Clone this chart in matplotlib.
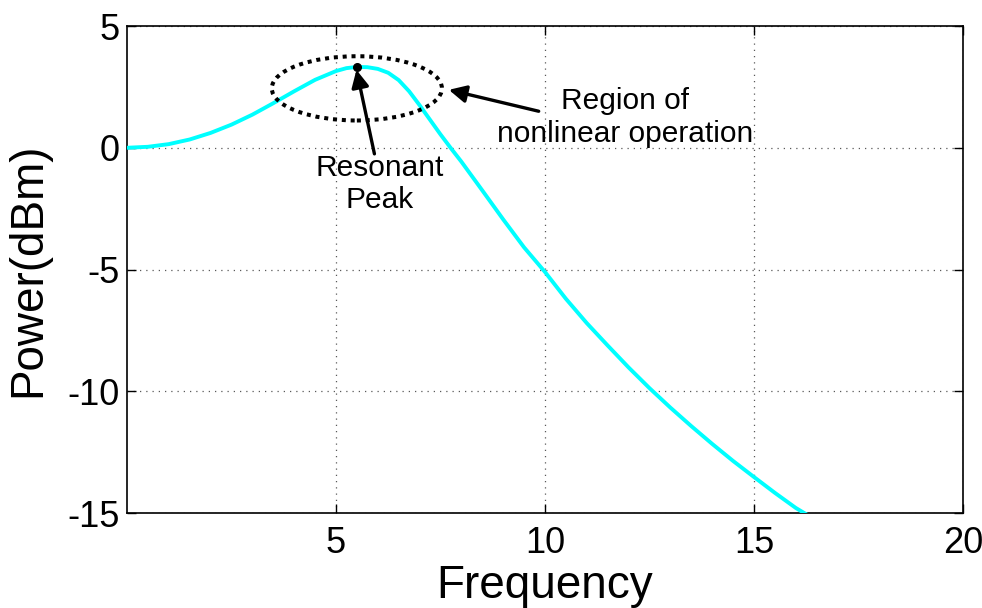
import matplotlib
matplotlib.use('Agg')
import matplotlib.pyplot as plt
from matplotlib.patches import Ellipse

plt.rcParams['font.family'] = ['Liberation Sans', 'DejaVu Sans']
plt.rcParams['axes.unicode_minus'] = False  # 하이픈 마이너스 사용

# 그래프에서 읽은 값 (주파수, 전력 dBm)
freq = [0, 0.5, 1, 1.5, 2, 2.5, 3, 3.5, 4, 4.5, 5, 5.25, 5.5, 5.75, 6, 6.25,
        6.5, 6.75, 7, 7.25, 7.5, 7.75, 8, 8.5, 9, 9.5, 10, 10.5, 11, 11.5,
        12, 12.5, 13, 13.5, 14, 14.5, 15, 15.5, 16, 16.3]
power = [0, 0.04, 0.15, 0.34, 0.61, 0.95, 1.36, 1.83, 2.32, 2.79, 3.15, 3.27,
         3.32, 3.31, 3.24, 3.08, 2.78, 2.32, 1.75, 1.15, 0.55, -0.02, -0.57,
         -1.75, -2.94, -4.09, -5.1, -6.2, -7.2, -8.12, -9.02, -9.87, -10.67,
         -11.43, -12.16, -12.86, -13.52, -14.17, -14.79, -15.1]

peak_f, peak_p = 5.5, 3.32
xticks = [5, 10, 15, 20]
yticks = [-15, -10, -5, 0, 5]

fig = plt.figure(figsize=(9.82, 6.08), dpi=100)
ax = fig.add_axes([0.1293, 0.1562, 0.8513, 0.801])

ax.plot(freq, power, color='cyan', lw=2.8, solid_joinstyle='round', zorder=3)
ax.plot(peak_f, peak_p, 'o', color='k', ms=5.5, zorder=4)

# 비선형 영역 표시 (점선 타원)
ell = Ellipse((5.5, 2.44), 4.07, 2.64, fill=False, ec='k', lw=2.9,
              ls=(0, (1, 1.2)), zorder=4)
ax.add_patch(ell)

arrow = dict(arrowstyle='-|>', lw=2.4, color='k', mutation_scale=26,
             shrinkA=0, shrinkB=0)
ax.annotate('', xy=(5.49, 3.2), xytext=(5.92, -0.25), arrowprops=arrow)
ax.annotate('', xy=(7.70, 2.38), xytext=(9.85, 1.50), arrowprops=arrow)

ax.text(6.04, -1.5, 'Resonant\nPeak', ha='center', va='center', fontsize=21.5)
ax.text(11.92, 1.24, 'Region of\nnonlinear operation', ha='center', va='center',
        fontsize=21.5)

ax.set_xlim(0, 20)
ax.set_ylim(-15, 5)
ax.set_xticks(xticks)
ax.set_yticks(yticks)
ax.tick_params(direction='in', length=6.5, width=1, top=True, right=True,
               labelsize=26)
ax.tick_params(axis='x', pad=9)
ax.tick_params(axis='y', pad=5)
ax.grid(True, color='0.35', lw=0.9, ls=(0, (1, 4)))
for s in ax.spines.values():
    s.set_linewidth(1.2)

ax.set_xlabel('Frequency', fontsize=33)
ax.set_ylabel('Power(dBm)', fontsize=33)
ax.xaxis.set_label_coords(0.5, -0.105)
ax.yaxis.set_label_coords(-0.092, 0.5)

plt.savefig('out.png', dpi=100)
